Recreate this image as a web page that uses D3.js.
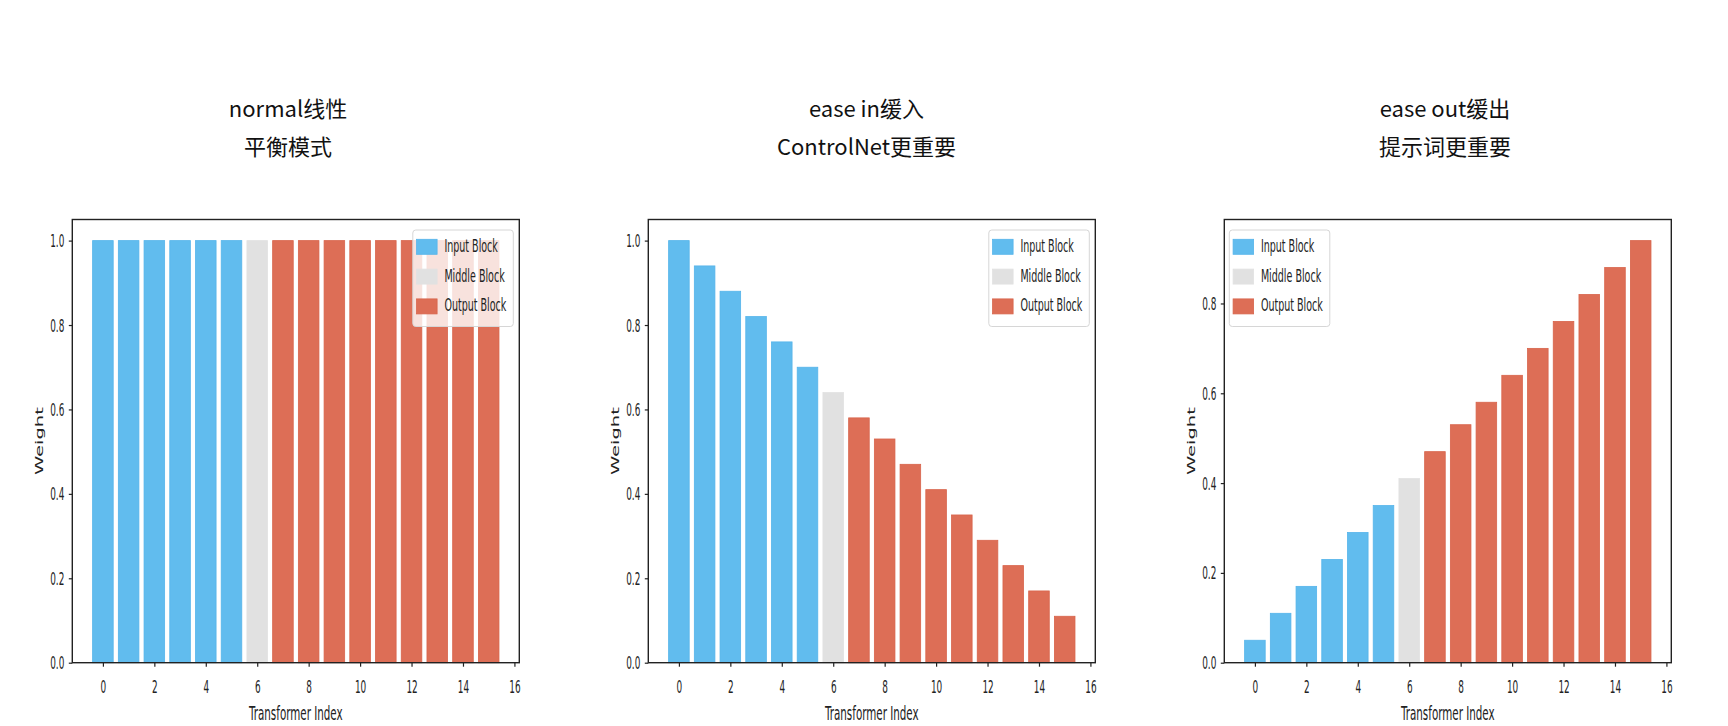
<!DOCTYPE html>
<html>
<head>
<meta charset="utf-8">
<script src="https://cdn.jsdelivr.net/npm/d3@7/dist/d3.min.js"></script>
<style>
  body { margin: 0; background: #fff; }
</style>
</head>
<body>
<div id="chart"></div>
<script>
// Transformer block index on the x axis, and which block each one belongs to.
var indices = [0, 1, 2, 3, 4, 5, 6, 7, 8, 9, 10, 11, 12, 13, 14, 15];
var blockTypes = ["input", "input", "input", "input", "input", "input", "middle",
  "output", "output", "output", "output", "output", "output", "output", "output", "output"];

// Weights.
var normalWeights  = [1.00, 1.00, 1.00, 1.00, 1.00, 1.00, 1.00, 1.00, 1.00, 1.00, 1.00, 1.00, 1.00, 1.00, 1.00, 1.00];
var easeInWeights  = [1.00, 0.94, 0.88, 0.82, 0.76, 0.70, 0.64, 0.58, 0.53, 0.47, 0.41, 0.35, 0.29, 0.23, 0.17, 0.11];
var easeOutWeights = [0.05, 0.11, 0.17, 0.23, 0.29, 0.35, 0.41, 0.47, 0.53, 0.58, 0.64, 0.70, 0.76, 0.82, 0.88, 0.94];

var panelTitles = [
  ["normal线性", "平衡模式"],
  ["ease in缓入", "ControlNet更重要"],
  ["ease out缓出", "提示词更重要"]
];
var legendLabels = ["Input Block", "Middle Block", "Output Block"];
var legendKeys = ["input", "middle", "output"];
var legendSide = ["right", "right", "left"];
var xTicks = [0, 2, 4, 6, 8, 10, 12, 14, 16];
var yTicks = [
  [0, 0.2, 0.4, 0.6, 0.8, 1.0],
  [0, 0.2, 0.4, 0.6, 0.8, 1.0],
  [0, 0.2, 0.4, 0.6, 0.8]
];

var colors = { input: "#61bcee", middle: "#e1e1e1", output: "#dd6e56" };
var edges  = { input: "#55b4ea", middle: "#e1e1e1", output: "#d8644b" };

var width = 1728;
var height = 726;

// The matplotlib text in the source is squeezed sideways, so text gets a scaleX.
var squeeze = 0.53;
var tickFont = 16.8;
var legendFont = 18;
var labelFont = 19.5;
var textFamily = "'DejaVu Sans', sans-serif";

var panelLeft = 72.3;
var panelStep = 576;
var plotW = 447;
var plotTop = 219.5;
var plotBottom = 662.7;
var plotH = plotBottom - plotTop;

var svg = d3.select("#chart")
  .append("svg")
    .attr("width", width)
    .attr("height", height);

function translate(x, y) {
  return "translate(" + x + "," + y + ")";
}

var series = [normalWeights, easeInWeights, easeOutWeights];

series.forEach(function (values, p) {
  var left = panelLeft + p * panelStep;

  // Title, two lines, drawn outside the plot.
  var titleX = 288 + p * 578.5;
  svg.append("g")
    .selectAll("text")
    .data(panelTitles[p])
    .enter()
    .append("text")
      .attr("x", titleX)
      .attr("y", function (d, i) { return i == 0 ? 117 : 155; })
      .attr("text-anchor", "middle")
      .style("font-family", "'Noto Sans CJK SC', 'Noto Sans', sans-serif")
      .style("font-size", "22px")
      .style("fill", "#111")
      .text(function (d) { return d; });

  var g = svg.append("g").attr("transform", translate(left, plotTop));

  // Same padding rule matplotlib uses for bar charts.
  var x = d3.scaleLinear()
    .domain([-0.4 - 0.79, 15.4 + 0.79])
    .range([0, plotW]);
  var y = d3.scaleLinear()
    .domain([0, d3.max(values) * 1.05])
    .range([plotH, 0]);

  g.selectAll("rect.bar")
    .data(indices)
    .enter()
    .append("rect")
      .attr("class", "bar")
      .attr("x", function (i) { return x(i - 0.4); })
      .attr("width", function (i) { return x(i + 0.4) - x(i - 0.4); })
      .attr("y", function (i) { return y(values[i]); })
      .attr("height", function (i) { return y(0) - y(values[i]); })
      .style("fill", function (i) { return colors[blockTypes[i]]; })
      .style("stroke", function (i) { return edges[blockTypes[i]]; })
      .style("stroke-width", 0.8);

  // Axes
  var xAxis = g.append("g")
    .attr("transform", translate(0, plotH))
    .call(d3.axisBottom(x).tickValues(xTicks).tickSize(4).tickSizeOuter(0).tickFormat(d3.format("d")));
  var yAxis = g.append("g")
    .call(d3.axisLeft(y).tickValues(yTicks[p]).tickSize(3.5).tickSizeOuter(0).tickFormat(d3.format(".1f")));

  [xAxis, yAxis].forEach(function (a) {
    a.select(".domain").remove();
    a.selectAll(".tick line").style("stroke", "#222").style("stroke-width", 1.2);
    a.selectAll(".tick text")
      .style("font-family", textFamily)
      .style("font-size", tickFont + "px")
      .style("fill", "#222")
      .attr("transform", "scale(" + squeeze + ",1)");
  });
  xAxis.selectAll(".tick text").attr("y", 30.6).attr("dy", 0);
  yAxis.selectAll(".tick text").attr("x", -8 / squeeze).attr("dy", "0.36em");

  // Frame around the plot
  g.append("rect")
    .attr("width", plotW)
    .attr("height", plotH)
    .style("fill", "none")
    .style("stroke", "#222")
    .style("stroke-width", 1.4);

  // Axis labels
  g.append("text")
    .attr("transform", translate(plotW / 2, 720 - plotTop) + " scale(" + squeeze + ",1)")
    .attr("text-anchor", "middle")
    .style("font-family", textFamily)
    .style("font-size", labelFont + "px")
    .style("fill", "#222")
    .text("Transformer Index");

  g.append("text")
    .attr("transform", translate(-29.5, plotH / 2) + " scale(" + squeeze + ",1) rotate(-90)")
    .attr("text-anchor", "middle")
    .style("font-family", textFamily)
    .style("font-size", labelFont + "px")
    .style("fill", "#222")
    .text("Weight");

  // Legend
  var legendW = 100.5;
  var legendH = 96.5;
  var legendX = legendSide[p] == "right" ? plotW - 6 - legendW : 5;
  var legend = g.append("g").attr("transform", translate(legendX, 10.5));

  legend.append("rect")
    .attr("width", legendW)
    .attr("height", legendH)
    .attr("rx", 3)
    .style("fill", "#fff")
    .style("fill-opacity", 0.8)
    .style("stroke", "#d6d6d6")
    .style("stroke-width", 1);

  var rows = legend.selectAll("g.row")
    .data(legendLabels)
    .enter()
    .append("g")
      .attr("class", "row")
      .attr("transform", function (d, i) { return translate(0, 16.8 + i * 29.8); });

  rows.append("rect")
    .attr("x", 3.8)
    .attr("y", -7.5)
    .attr("width", 20.5)
    .attr("height", 15)
    .style("fill", function (d, i) { return colors[legendKeys[i]]; })
    .style("stroke", function (d, i) { return edges[legendKeys[i]]; })
    .style("stroke-width", 0.8);

  rows.append("text")
    .attr("transform", translate(31.6, 5) + " scale(" + squeeze + ",1)")
    .style("font-family", textFamily)
    .style("font-size", legendFont + "px")
    .style("fill", "#222")
    .text(function (d) { return d; });
});
</script>
</body>
</html>
